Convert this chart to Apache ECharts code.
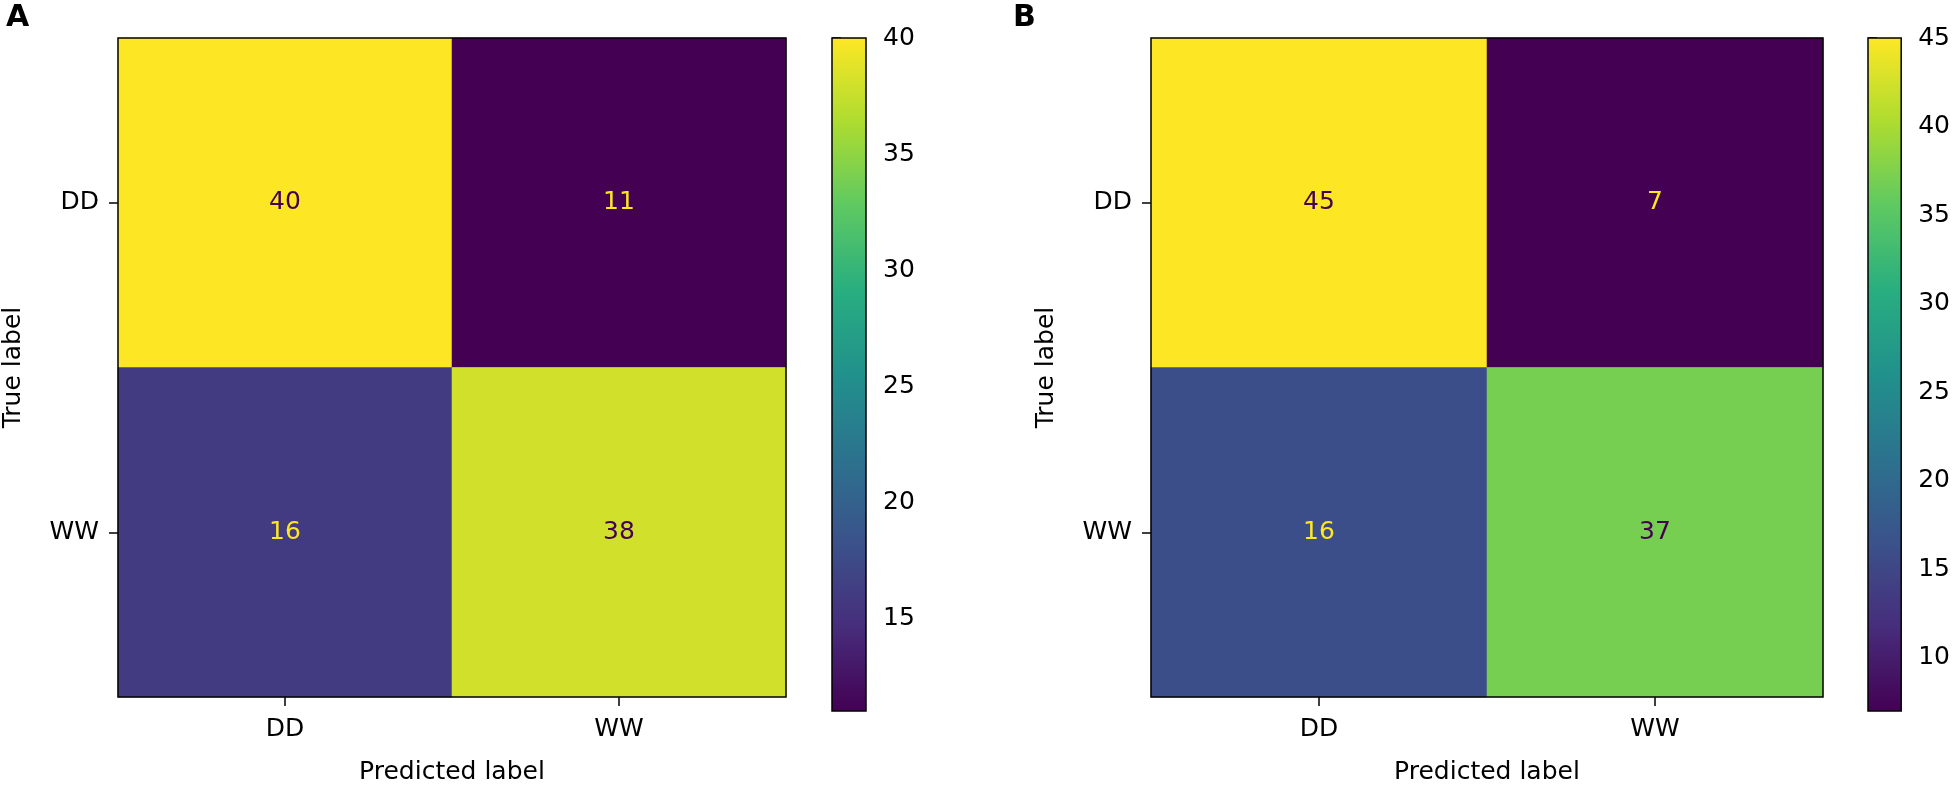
<!DOCTYPE html>
<html>
<head>
<meta charset="utf-8">
<script src="https://cdn.jsdelivr.net/npm/echarts@6/dist/echarts.min.js"></script>
<style>
  html, body { margin: 0; padding: 0; background: #fff; }
  #main { width: 1953px; height: 790px; }
</style>
</head>
<body>
<div id="main"></div>
<script>
// categories (predicted on x, true on y)
var labels = ['DD', 'WW'];
// confusion matrices, rows = true label, cols = predicted label
var matrixA = [[40, 11], [16, 38]];
var matrixB = [[45, 7], [16, 37]];
// colorbar ticks
var ticksA = [15, 20, 25, 30, 35, 40];
var ticksB = [10, 15, 20, 25, 30, 35, 40, 45];

var viridis = ['#440154', '#472d7b', '#3b528b', '#2c728e', '#21918c',
               '#28ae80', '#5ec962', '#addc30', '#fde725'];
var FONT = 'DejaVu Sans';
var FS = 25;

function range(m) {
  var all = m[0].concat(m[1]);
  return [Math.min.apply(null, all), Math.max.apply(null, all)];
}

function cells(m) {
  var r = range(m), mid = (r[0] + r[1]) / 2, out = [];
  for (var i = 0; i < m.length; i++) {
    for (var j = 0; j < m[i].length; j++) {
      out.push({
        value: [j, i, m[i][j]],
        label: { color: m[i][j] < mid ? viridis[8] : viridis[0] }
      });
    }
  }
  return out;
}

var rA = range(matrixA), rB = range(matrixB);

var grids = [
  { left: 115, top: 38, width: 671, height: 673 },
  { left: 832, top: 38, width: 34, height: 673 },
  { left: 1151, top: 38, width: 672, height: 673 },
  { left: 1868, top: 38, width: 34, height: 673 }
].map(function (g) {
  g.show = true; g.borderColor = '#000'; g.borderWidth = 1.5;
  g.backgroundColor = 'transparent'; g.z = 10;
  return g;
});

function heatX(gi) {
  return {
    type: 'category', gridIndex: gi, data: labels, position: 'bottom',
    name: 'Predicted label', nameLocation: 'middle', nameGap: 63,
    nameTextStyle: { fontFamily: FONT, fontSize: FS, color: '#000' },
    axisLine: { show: false },
    axisTick: { show: true, alignWithLabel: true, length: 9, inside: false,
                lineStyle: { color: '#000', width: 1.5 } },
    axisLabel: { fontFamily: FONT, fontSize: FS, color: '#000', margin: 20 },
    splitLine: { show: false }
  };
}
function heatY(gi) {
  return {
    type: 'category', gridIndex: gi, data: labels, inverse: true,
    name: 'True label', nameLocation: 'middle', nameGap: 92,
    nameTextStyle: { fontFamily: FONT, fontSize: FS, color: '#000' },
    axisLine: { show: false },
    axisTick: { show: true, alignWithLabel: true, length: 9,
                lineStyle: { color: '#000', width: 1.5 } },
    axisLabel: { fontFamily: FONT, fontSize: FS, color: '#000', margin: 19 },
    splitLine: { show: false }
  };
}
function barX(gi) {
  return { type: 'value', gridIndex: gi, min: 0, max: 1, show: false };
}
function barY(gi, r, ticks) {
  return {
    type: 'value', gridIndex: gi, min: r[0], max: r[1], position: 'right',
    axisLine: { show: false },
    axisTick: { show: true, length: 9, customValues: ticks,
                lineStyle: { color: '#000', width: 1.5 } },
    axisLabel: { fontFamily: FONT, fontSize: FS, color: '#000', margin: 17,
                 customValues: ticks },
    splitLine: { show: false }
  };
}

function colorbar(xi, r) {
  return {
    type: 'custom', xAxisIndex: xi, yAxisIndex: xi,
    data: [[0, r[0], r[1]]],
    renderItem: function (params, api) {
      var top = api.coord([0, api.value(2)]);
      var bot = api.coord([1, api.value(1)]);
      var stops = viridis.map(function (c, k) {
        return { offset: 1 - k / (viridis.length - 1), color: c };
      }).reverse();
      return {
        type: 'rect',
        shape: { x: top[0], y: top[1], width: bot[0] - top[0], height: bot[1] - top[1] },
        style: { fill: new echarts.graphic.LinearGradient(0, 0, 0, 1, stops) }
      };
    }
  };
}

function heat(xi, m) {
  return {
    type: 'heatmap', xAxisIndex: xi, yAxisIndex: xi,
    data: cells(m),
    label: { show: true, fontFamily: FONT, fontSize: FS,
             formatter: function (p) { return p.value[2]; } },
    itemStyle: { borderWidth: 0 },
    emphasis: { disabled: true }
  };
}

var chart = echarts.init(document.getElementById('main'), null, { renderer: 'canvas' });
chart.setOption({
  backgroundColor: '#fff',
  animation: false,
  title: [
    { text: 'A', left: 1, top: -2, textStyle: { fontFamily: FONT, fontSize: 30, fontWeight: 'bold', color: '#000' } },
    { text: 'B', left: 1008, top: -2, textStyle: { fontFamily: FONT, fontSize: 30, fontWeight: 'bold', color: '#000' } }
  ],
  grid: grids,
  xAxis: [heatX(0), barX(1), heatX(2), barX(3)],
  yAxis: [heatY(0), barY(1, rA, ticksA), heatY(2), barY(3, rB, ticksB)],
  visualMap: [
    { type: 'continuous', show: false, seriesIndex: 0, min: rA[0], max: rA[1], inRange: { color: viridis } },
    { type: 'continuous', show: false, seriesIndex: 2, min: rB[0], max: rB[1], inRange: { color: viridis } }
  ],
  series: [heat(0, matrixA), colorbar(1, rA), heat(2, matrixB), colorbar(3, rB)]
});
</script>
</body>
</html>
